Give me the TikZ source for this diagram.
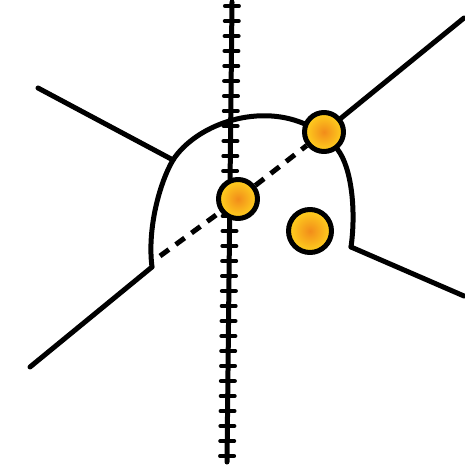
\documentclass[tikz,border=0pt]{standalone}
\usetikzlibrary{calc}
\definecolor{DotOrange}{RGB}{242,140,26}
\definecolor{DotYellow}{RGB}{255,210,30}

\begin{document}
\begin{tikzpicture}[x=0.02cm,y=-0.02cm,line cap=round,line join=round]
  \tikzset{pen/.style={draw=black,line width=0.1cm},
    tick/.style={draw=black,line width=0.08cm},
    dashpen/.style={pen,line cap=butt,dash pattern=on 0.22cm off 0.17cm},
    dot/.style={circle,draw=black,line width=0.1cm,inner sep=0pt,minimum size=0.78cm,
      inner color=DotOrange,outer color=DotYellow}}
  \useasboundingbox (0,0) rectangle (464,475);
  % hatched vertical track
  \coordinate (vtop) at (232,2);
  \coordinate (vbot) at (227,462);
  \draw[pen] (vtop) -- (vbot);
  \foreach \y in {6,21,...,456} {
    \pgfmathsetmacro{\xx}{232-5*\y/462}
    \draw[tick] (\xx-7,\y) -- (\xx+7,\y);
  }
  % dots
  \node[dot] (dtop) at (324,132) {};
  \node[dot] (dmid) at (238,199) {};
  \node[dot,minimum size=0.86cm] (dlow) at (310,231) {};
  % outer lines and the cell boundary
  \coordinate (ul) at (38,88);
  \coordinate (jl) at (173,160);
  \coordinate (jb) at (152,267);
  \coordinate (bl) at (30,367);
  \coordinate (jr) at (351,247);
  \coordinate (br) at (464,296);
  \coordinate (ur) at (464,18);
  \coordinate (dl) at (160,256);
  \draw[pen] (ul) -- (jl);
  \draw[pen] (jl) .. controls (195,126) and (255,103) .. (dtop);
  \draw[pen] (jl) .. controls (160,182) and (147,228) .. (jb);
  \draw[pen] (jb) -- (bl);
  \draw[pen] (dtop) .. controls (352,168) and (356,212) .. (jr);
  \draw[pen] (jr) -- (br);
  \draw[pen] (dtop) -- (ur);
  \draw[dashpen] (dl) -- (dmid);
  \draw[dashpen] (dmid) -- (dtop);
\end{tikzpicture}
\end{document}
